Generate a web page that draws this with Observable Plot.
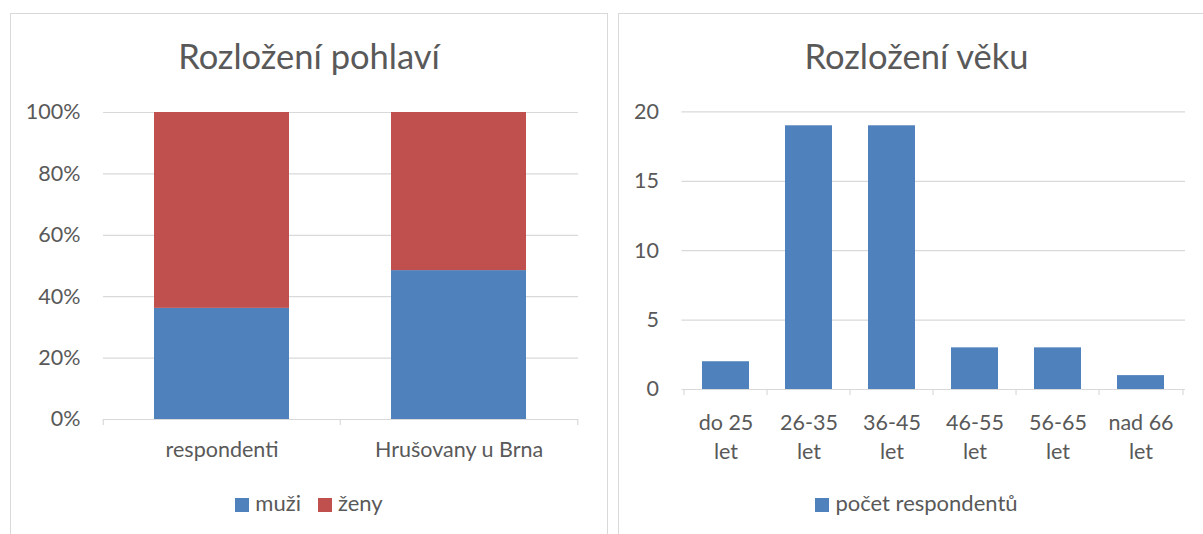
<!DOCTYPE html>
<html>
<head>
<meta charset="utf-8">
<script src="https://cdn.jsdelivr.net/npm/d3@7"></script>
<script src="https://cdn.jsdelivr.net/npm/@observablehq/plot@0.6"></script>
<style>
  html, body { margin: 0; padding: 0; background: #fff; }
  body { font-family: Lato, "Open Sans", sans-serif; color: #595959; overflow: hidden; }
  #wrap { position: relative; width: 1203px; height: 534px; overflow: hidden; background: #fff; }
  .panel { position: absolute; top: 13px; height: 600px; border: 1px solid #d9d9d9; box-sizing: border-box; background: #fff; }
  .title { position: absolute; top: 35px; text-align: center; font-size: 34.5px; line-height: 42px; color: #595959; white-space: nowrap; }
  .legend { position: absolute; top: 490px; text-align: center; font-size: 22px; line-height: 26px; color: #595959; white-space: nowrap; }
  .legend .item { display: inline-block; margin: 0 8.5px; }
  .legend .sw { display: inline-block; width: 14px; height: 14px; margin-right: 6px; vertical-align: -1px; }
  .chart { position: absolute; top: 80px; height: 400px; }
  .chart svg { overflow: visible; max-width: none !important; }
</style>
</head>
<body>
<div id="wrap">
  <div class="panel" style="left:10px;width:598px;"></div>
  <div class="panel" style="left:618px;width:600px;"></div>
  <div class="title" style="left:10px;width:598px;">Rozložení pohlaví</div>
  <div class="title" style="left:618px;width:597px;">Rozložení věku</div>
  <div class="chart" id="c1" style="left:10px;width:598px;"></div>
  <div class="chart" id="c2" style="left:618px;width:597px;"></div>
  <div class="legend" id="l1" style="left:10px;width:598px;"></div>
  <div class="legend" id="l2" style="left:618px;width:597px;"></div>
</div>
<script>
// ---------- data ----------
const genderCategories = ["respondenti", "Hrušovany u Brna"];
const genderSeries = ["muži", "ženy"];
const menShare = [36.2, 48.5];     // %
const womenShare = [63.8, 51.5];   // %
const genderTicks = [0, 20, 40, 60, 80, 100];

const ageCategories = ["do 25\nlet", "26-35\nlet", "36-45\nlet", "46-55\nlet", "56-65\nlet", "nad 66\nlet"];
const ageSeries = "počet respondentů";
const ageCounts = [2, 19, 19, 3, 3, 1];
const ageTicks = [0, 5, 10, 15, 20];

const blue = "#4f81bd";
const red = "#c0504d";
const grid = "#d9d9d9";
const textColor = "#595959";
const font = "Lato, 'Open Sans', sans-serif";
const fontSize = 21.5;

// ---------- chart 1: stacked percent ----------
const genderTable = [];
genderCategories.forEach((c, i) => {
  genderTable.push({cat: c, sex: genderSeries[0], value: menShare[i]});
  genderTable.push({cat: c, sex: genderSeries[1], value: womenShare[i]});
});

const w1 = 598, h1 = 400, ml1 = 93, mr1 = 30, mt1 = 32, mb1 = 61;
const step1 = (w1 - ml1 - mr1) / genderCategories.length;
const chart1 = Plot.plot({
  width: w1, height: h1,
  marginLeft: ml1, marginRight: mr1, marginTop: mt1, marginBottom: mb1,
  style: {fontFamily: font, fontSize: fontSize + "px", color: textColor, background: "transparent", maxWidth: "none"},
  x: {domain: genderCategories, paddingInner: 0.43, paddingOuter: 0.215, label: null},
  y: {domain: [0, 100], label: null},
  color: {domain: genderSeries, range: [blue, red]},
  marks: [
    Plot.gridY(genderTicks, {stroke: grid, strokeOpacity: 1, strokeWidth: 1.2}),
    Plot.barY(genderTable, {x: "cat", y: "value", fill: "sex"}),
    Plot.ruleX(genderCategories, {x: d => d, y1: 0, y2: 0, insetBottom: -6, dx: -step1 / 2, stroke: grid, strokeWidth: 1.2}),
    Plot.ruleX(genderCategories.slice(-1), {x: d => d, y1: 0, y2: 0, insetBottom: -6, dx: step1 / 2, stroke: grid, strokeWidth: 1.2}),
    Plot.axisY(genderTicks, {tickSize: 0, tickPadding: 23, tickFormat: d => d + "%", fill: textColor, fontSize: fontSize}),
    Plot.axisX({tickSize: 0, tickPadding: 22, fill: textColor, fontSize: fontSize})
  ]
});
document.getElementById("c1").appendChild(chart1);

// ---------- chart 2: age ----------
const ageTable = ageCategories.map((c, i) => ({cat: c, value: ageCounts[i]}));
const w2 = 597, h2 = 400, ml2 = 63.5, mr2 = 30, mt2 = 31.4, mb2 = 91;
const step2 = (w2 - ml2 - mr2) / ageCategories.length;
const chart2 = Plot.plot({
  width: w2, height: h2,
  marginLeft: ml2, marginRight: mr2, marginTop: mt2, marginBottom: mb2,
  style: {fontFamily: font, fontSize: fontSize + "px", color: textColor, background: "transparent", maxWidth: "none"},
  x: {domain: ageCategories, paddingInner: 0.43, paddingOuter: 0.215, label: null},
  y: {domain: [0, 20], label: null},
  marks: [
    Plot.gridY(ageTicks, {stroke: grid, strokeOpacity: 1, strokeWidth: 1.2}),
    Plot.barY(ageTable, {x: "cat", y: "value", fill: blue}),
    Plot.ruleX(ageCategories, {x: d => d, y1: 0, y2: 0, insetBottom: -6, dx: -step2 / 2, stroke: grid, strokeWidth: 1.2}),
    Plot.ruleX(ageCategories.slice(-1), {x: d => d, y1: 0, y2: 0, insetBottom: -6, dx: step2 / 2, stroke: grid, strokeWidth: 1.2}),
    Plot.axisY(ageTicks, {tickSize: 0, tickPadding: 23, fill: textColor, fontSize: fontSize}),
    Plot.axisX({tickSize: 0, tickPadding: 20, lineHeight: 29 / fontSize, fill: textColor, fontSize: fontSize})
  ]
});
document.getElementById("c2").appendChild(chart2);

// ---------- legends ----------
function legend(el, items) {
  items.forEach(([label, color]) => {
    const it = document.createElement("span");
    it.className = "item";
    const sw = document.createElement("span");
    sw.className = "sw";
    sw.style.background = color;
    it.appendChild(sw);
    it.appendChild(document.createTextNode(label));
    el.appendChild(it);
  });
}
legend(document.getElementById("l1"), genderSeries.map((s, i) => [s, [blue, red][i]]));
legend(document.getElementById("l2"), [[ageSeries, blue]]);
</script>
</body>
</html>
